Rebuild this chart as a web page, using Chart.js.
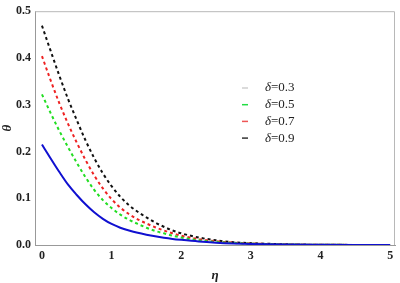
<!DOCTYPE html>
<html>
<head>
<meta charset="utf-8">
<script src="https://cdn.jsdelivr.net/npm/chart.js@4"></script>
<style>
  html, body { margin: 0; padding: 0; background: #fff; }
  #wrap { width: 400px; height: 283px; }
</style>
</head>
<body>
<div id="wrap"><canvas id="myChart" width="400" height="283"></canvas></div>
<script>
// eta values (x axis)
const eta = [0, 0.125, 0.25, 0.375, 0.5, 0.625, 0.75, 0.875, 1, 1.125, 1.25, 1.375, 1.5, 1.625, 1.75, 1.875, 2, 2.25, 2.5, 2.75, 3, 3.5, 4, 4.5, 5];

// theta for each delta
const theta03 = [0.215, 0.185, 0.156, 0.129, 0.107, 0.087, 0.070, 0.056, 0.045, 0.037, 0.031, 0.026, 0.022, 0.0185, 0.0155, 0.013, 0.011, 0.0075, 0.005, 0.0033, 0.0022, 0.001, 0.0005, 0.0002, 0.0001];
const theta05 = [0.322, 0.282, 0.244, 0.209, 0.176, 0.145, 0.118, 0.096, 0.079, 0.065, 0.054, 0.045, 0.037, 0.030, 0.025, 0.020, 0.016, 0.010, 0.0065, 0.0042, 0.0027, 0.0011, 0.0005, 0.0002, 0.0001];
const theta07 = [0.404, 0.352, 0.303, 0.259, 0.219, 0.182, 0.149, 0.121, 0.098, 0.080, 0.066, 0.055, 0.046, 0.038, 0.031, 0.025, 0.020, 0.0125, 0.008, 0.005, 0.0032, 0.0013, 0.0005, 0.0002, 0.0001];
const theta09 = [0.469, 0.415, 0.362, 0.312, 0.267, 0.224, 0.186, 0.153, 0.126, 0.103, 0.085, 0.071, 0.059, 0.048, 0.039, 0.031, 0.025, 0.016, 0.010, 0.006, 0.004, 0.0015, 0.0006, 0.0002, 0.0001];

const deltaLabels = ['0.3', '0.5', '0.7', '0.9'];
const xTicks = [0, 1, 2, 3, 4, 5];
const yTicks = [0, 0.1, 0.2, 0.3, 0.4, 0.5];

function pts(ys) {
    return eta.map((x, i) => ({ x: x, y: ys[i] }));
}

const serif = '"Liberation Serif", "DejaVu Serif", serif';

// Box around plot area (top + right sides)
const frame = {
    id: 'frame',
    beforeDatasetsDraw(chart) {
        const a = chart.chartArea;
        const c = chart.ctx;
        c.save();
        c.strokeStyle = '#b8b8b8';
        c.lineWidth = 1;
        c.beginPath();
        c.moveTo(a.left, a.top + 0.5);
        c.lineTo(a.right - 0.5, a.top + 0.5);
        c.lineTo(a.right - 0.5, a.bottom);
        c.stroke();
        c.restore();
    }
};

// Legend drawn inside the plot
const legendInside = {
    id: 'legendInside',
    afterDraw(chart) {
        const c = chart.ctx;
        const markColors = ['#cfcfcf', '#22dd44', '#ee5555', '#333333'];
        c.save();
        chart.data.datasets.forEach((ds, i) => {
            const y = 88 + i * 16.7;
            c.strokeStyle = markColors[i];
            c.lineWidth = 1.5;
            c.beginPath();
            c.moveTo(242, y);
            c.lineTo(248, y);
            c.stroke();
            c.fillStyle = '#222';
            c.textBaseline = 'middle';
            c.font = 'italic 13px ' + serif;
            c.fillText('δ', 265, y);
            const w = c.measureText('δ').width;
            c.font = '13px ' + serif;
            c.fillText('=' + deltaLabels[i], 265 + w, y);
        });
        c.restore();
    }
};

const ctx = document.getElementById('myChart').getContext('2d');

const myChart = new Chart(ctx, {
    type: 'line',
    data: {
        datasets: [
            { label: 'δ=0.3', data: pts(theta03), borderColor: '#1010d0', borderWidth: 2 },
            { label: 'δ=0.5', data: pts(theta05), borderColor: '#22dd22', borderWidth: 2, borderDash: [3, 3] },
            { label: 'δ=0.7', data: pts(theta07), borderColor: '#ee2222', borderWidth: 2, borderDash: [3, 3] },
            { label: 'δ=0.9', data: pts(theta09), borderColor: '#111111', borderWidth: 2, borderDash: [3, 3] }
        ]
    },
    options: {
        responsive: false,
        animation: false,
        layout: { padding: { top: 5, right: 5, left: 0, bottom: 0 } },
        elements: {
            point: { radius: 0 },
            line: { cubicInterpolationMode: 'monotone', fill: false }
        },
        plugins: {
            legend: { display: false },
            tooltip: { enabled: false }
        },
        scales: {
            x: {
                type: 'linear',
                min: -0.1,
                max: 5.07,
                afterBuildTicks: s => { s.ticks = xTicks.map(v => ({ value: v })); },
                afterFit: s => { s.height = 38; },
                grid: { display: false, drawTicks: false },
                border: { color: '#999', width: 1 },
                ticks: {
                    padding: 4,
                    color: '#222',
                    font: { family: serif, size: 12, weight: 'bold' },
                    callback: v => String(v)
                },
                title: {
                    display: true,
                    text: 'η',
                    color: '#222',
                    padding: { top: 5, bottom: 0 },
                    font: { family: serif, size: 13, style: 'italic', weight: 'bold' }
                }
            },
            y: {
                min: 0,
                max: 0.5,
                afterBuildTicks: s => { s.ticks = yTicks.map(v => ({ value: v })); },
                afterFit: s => { s.width = 35; },
                grid: { display: false, drawTicks: false },
                border: { color: '#999', width: 1 },
                ticks: {
                    padding: 4,
                    color: '#222',
                    font: { family: serif, size: 12, weight: 'bold' },
                    callback: v => v.toFixed(1)
                },
                title: {
                    display: true,
                    text: 'θ',
                    color: '#222',
                    padding: { top: 0, bottom: 0 },
                    font: { family: serif, size: 13, style: 'italic', weight: 'bold' }
                }
            }
        }
    },
    plugins: [frame, legendInside]
});
</script>
</body>
</html>
